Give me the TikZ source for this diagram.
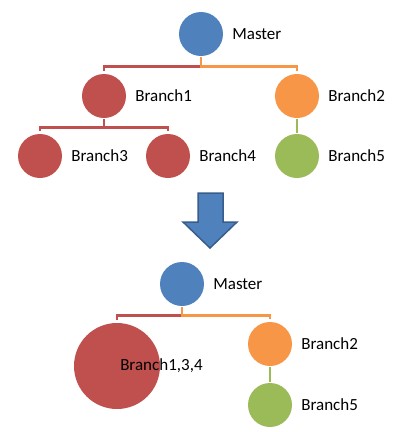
\documentclass[tikz,border=0pt]{standalone}
\usepackage{fontspec}
\setmainfont{Carlito}
\usetikzlibrary{positioning}
\definecolor{mblue}{HTML}{4F81BD}
\definecolor{mdark}{HTML}{385D8A}
\definecolor{bred}{HTML}{C0504D}
\definecolor{borange}{HTML}{F79646}
\definecolor{bgreen}{HTML}{9BBB59}

\begin{document}
\begin{tikzpicture}[x=1pt,y=-1pt,font=\fontsize{17}{20}\selectfont,line width=2.5pt,
        dot/.style={shape=circle,minimum size=44pt,inner sep=0pt},
        tag/.style={label={[label distance=3.5pt]right:#1}}]
        \useasboundingbox (0,0) rectangle (400,432);

        % before
        \node[dot,fill=mblue,tag=Master]    (m)  at (201,34)  {};
        \node[dot,fill=bred,tag=Branch1]    (b1) at (104,96)  {};
        \node[dot,fill=borange,tag=Branch2] (b2) at (297,96)  {};
        \node[dot,fill=bred,tag=Branch3]    (b3) at (40,156)  {};
        \node[dot,fill=bred,tag=Branch4]    (b4) at (168,156) {};
        \node[dot,fill=bgreen,tag=Branch5]  (b5) at (297,156) {};

        \draw [bred,shorten >=2pt] (m.south) -- ++(0,9) -| (b1.north);
        \draw [borange,shorten >=2pt] (m.south) -- ++(0,9) -| (b2.north);
        \draw [bred,shorten >=2pt] (b1.south) -- ++(0,8) -| (b3.north);
        \draw [bred,shorten >=2pt] (b1.south) -- ++(0,8) -| (b4.north);
        \draw [bgreen] (b2) -- (b5);

        % arrow
        \draw [fill=mblue,draw=mdark,line width=1.5pt,line join=miter]
            (198,193) -- (223,193) -- (223,222) -- (237,222) -- (210,248)
            -- (183,222) -- (198,222) -- cycle;

        % after
        \node[dot,fill=mblue,tag=Master]    (m2)   at (182,284) {};
        \node[dot,fill=bred,minimum size=86pt] (b134) at (117,366) {};
        \node[anchor=west,inner sep=0pt,xshift=2pt] (t134) at (b134.center) {Branch1,3,4};
        \node[dot,fill=borange,tag=Branch2] (c2)   at (270,344) {};
        \node[dot,fill=bgreen,tag=Branch5]  (c5)   at (270,405) {};

        \draw [bred,shorten >=2pt] (m2.south) -- ++(0,8) -| (b134.north);
        \draw [borange,shorten >=2pt] (m2.south) -- ++(0,8) -| (c2.north);
        \draw [bgreen] (c2) -- (c5);

    \end{tikzpicture}
\end{document}
